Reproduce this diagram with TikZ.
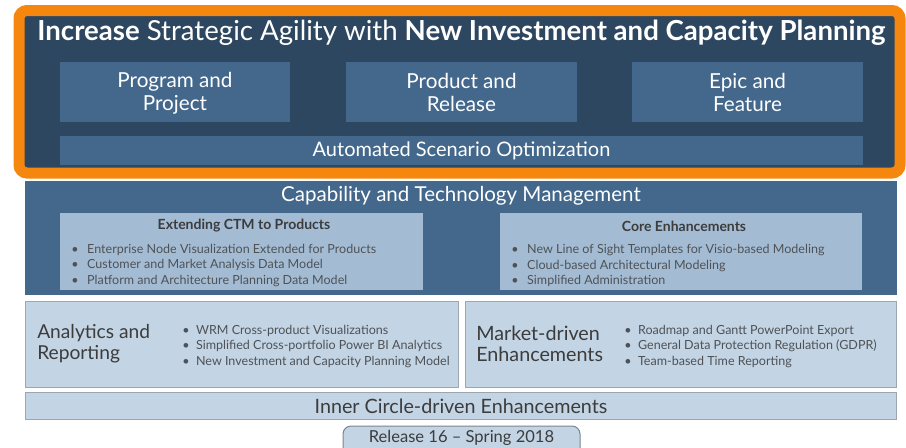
\documentclass[tikz,border=0pt]{standalone}
\usepackage{fontspec}
\setmainfont{Lato}
\usepackage{xcolor}
\usetikzlibrary{positioning}
\definecolor{navy}{HTML}{2E4760}
\definecolor{steel}{HTML}{43688C}
\definecolor{pale}{HTML}{A3BCD4}
\definecolor{mist}{HTML}{C3D4E4}
\definecolor{rim}{HTML}{9AA6B2}
\definecolor{amber}{HTML}{F6870E}
\definecolor{ink}{HTML}{3C3C3C}
\definecolor{slate}{HTML}{4E5256}
\newcommand\dotitem[1][6.5pt]{\textbullet\hspace{#1}}

\begin{document}
\begin{tikzpicture}[x=0.75pt,y=-0.75pt,
    lbl/.style={text=white,inner sep=0pt,align=center},
    dark/.style={text=ink,inner sep=0pt},
    list/.style={inner sep=0pt,text=slate,align=left,anchor=west,font=\fontsize{9.4}{11.6}\selectfont},
    panel/.style={fill=mist,draw=rim,line width=0.75pt}]
    \useasboundingbox (0,0) rectangle (906,447);
    % top block
    \draw[fill=navy,draw=amber,line width=8.25pt,rounded corners=6pt]
      (19,10.5) rectangle (900,173);
    \node[lbl,anchor=base,font=\fontsize{20.7}{23}\selectfont] (title) at (461.5,40)
      {\textbf{Increase} Strategic Agility with \textbf{New Investment and Capacity Planning}};
    \fill[steel] (60,62) rectangle (290,122);
    \fill[steel] (346,62) rectangle (577,122);
    \fill[steel] (632,62) rectangle (863,122);
    \fill[steel] (60,136) rectangle (863,165);
    \node[lbl,font=\fontsize{15.5}{17.25}\selectfont] (prog) at (175,93.5) {Program and\\Project};
    \node[lbl,font=\fontsize{15.5}{17.25}\selectfont] (prod) at (461.5,92.5) {Product and\\Release};
    \node[lbl,font=\fontsize{15.5}{17.25}\selectfont] (epic) at (747.5,92.5) {Epic and\\Feature};
    \node[lbl,font=\fontsize{15}{17}\selectfont] (auto) at (461.5,150.5) {Automated Scenario Optimization};
    % capability and technology management
    \fill[steel] (25,181) rectangle (897,295);
    \node[lbl,font=\fontsize{15.4}{17}\selectfont] (ctm) at (461,196) {Capability and Technology Management};
    \fill[pale] (60,213) rectangle (423,290);
    \fill[pale] (500,213) rectangle (862,290);
    \node[dark,font=\fontsize{10.5}{12}\selectfont\bfseries] (ext) at (244,226) {Extending CTM to Products};
    \node[list] (extlist) at (71,265.5)
      {\dotitem Enterprise Node Visualization Extended for Products\\
       \dotitem Customer and Market Analysis Data Model\\
       \dotitem Platform and Architecture Planning Data Model};
    \node[dark,font=\fontsize{10.5}{12}\selectfont\bfseries] (core) at (684,226) {Core Enhancements};
    \node[list] (corelist) at (511,265.5)
      {\dotitem New Line of Sight Templates for Visio-based Modeling\\
       \dotitem Cloud-based Architectural Modeling\\
       \dotitem Simplified Administration};
    % lower panels
    \draw[panel] (25,301) rectangle (458,387);
    \draw[panel] (465,301) rectangle (896,387);
    \node[dark,align=left,anchor=west,font=\fontsize{14.4}{15.75}\selectfont] (ana) at (37,344)
      {Analytics and\\Reporting};
    \node[list] (analist) at (182,346.5)
      {\dotitem[2.5pt] WRM Cross-product Visualizations\\
       \dotitem[2.5pt] Simplified Cross-portfolio Power BI Analytics\\
       \dotitem[2.5pt] New Investment and Capacity Planning Model};
    \node[dark,align=left,anchor=west,font=\fontsize{14.8}{15.75}\selectfont] (mkt) at (476,344)
      {Market-driven\\Enhancements};
    \node[list] (mktlist) at (624,346.5)
      {\dotitem[2.5pt] Roadmap and Gantt PowerPoint Export\\
       \dotitem[2.5pt] General Data Protection Regulation (GDPR)\\
       \dotitem[2.5pt] Team-based Time Reporting};
    \draw[panel] (25,392) rectangle (896,419);
    \node[dark,font=\fontsize{14.8}{16}\selectfont] (inner) at (461,406) {Inner Circle-driven Enhancements};
    % release tab
    \draw[panel,draw=rim!80!black,rounded corners=6pt] (343,452) -- (343,426) -- (580,426) -- (580,452);
    \node[dark,font=\fontsize{12.4}{14}\selectfont] (rel) at (461.5,437.5) {Release 16 -- Spring 2018};
\end{tikzpicture}
\end{document}
